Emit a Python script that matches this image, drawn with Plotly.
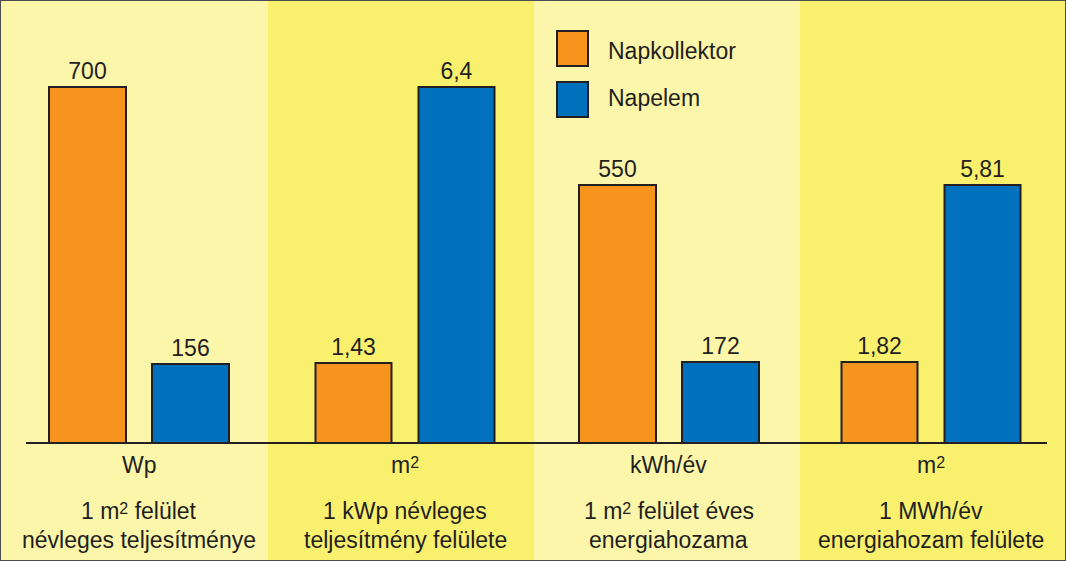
import plotly.graph_objects as go
from plotly.subplots import make_subplots

SQ = "<span style='font-size:16px;baseline-shift:5px'>2</span>"

# ---- data ----
series_names = ["Napkollektor", "Napelem"]
napkollektor = [700, 1.43, 550, 1.82]
napelem = [156, 6.4, 172, 5.81]
units = ["Wp", "m" + SQ, "kWh/év", "m" + SQ]
descriptions = [
    ["1 m" + SQ + " felület", "névleges teljesítménye"],
    ["1 kWp névleges", "teljesítmény felülete"],
    ["1 m" + SQ + " felület éves", "energiahozama"],
    ["1 MWh/év", "energiahozam felülete"],
]
# each panel has its own value scale (as in the original graphic)
y_axis_max = [871, 7.96, 944, 9.98]

# ---- style ----
W, H = 1066, 561
FONT = "Liberation Sans, Arial, sans-serif"
TXT = "#231F20"
ORANGE = "#F7941D"
BLUE = "#0071BC"
PANEL_COLORS = ["#FBF6A9", "#F9F16E", "#FBF6A9", "#F9F16E"]
panel_edges_px = [0, 268, 534, 800, 1066]
x_range_start = [-0.85, -0.845, -0.82, -0.78]
x_range_width = 2.587
base_px = 443

def px_x(x):
    return x / W

def px_y(y):
    return 1 - y / H

def fmt(v):
    return f"{v:g}".replace(".", ",")

fig = make_subplots(rows=1, cols=4, horizontal_spacing=0)

for i in range(4):
    vals = [napkollektor[i], napelem[i]]
    fig.add_trace(
        go.Bar(
            x=[0, 1],
            y=vals,
            width=0.74,
            marker=dict(color=[ORANGE, BLUE], line=dict(color=TXT, width=2)),
            text=[fmt(v) for v in vals],
            textposition="outside",
            constraintext="none",
            cliponaxis=False,
            textfont=dict(family=FONT, size=23, color=TXT),
            showlegend=False,
            hovertext=series_names,
        ),
        row=1, col=i + 1,
    )
    xa = "xaxis" if i == 0 else f"xaxis{i+1}"
    ya = "yaxis" if i == 0 else f"yaxis{i+1}"
    fig.layout[xa].update(range=[x_range_start[i], x_range_start[i] + x_range_width],
                          visible=False, fixedrange=True)
    fig.layout[ya].update(range=[0, y_axis_max[i]], domain=[px_y(base_px), 1],
                          visible=False, fixedrange=True)

shapes = []
# panel backgrounds
for i, c in enumerate(PANEL_COLORS):
    shapes.append(dict(type="rect", xref="paper", yref="paper",
                       x0=px_x(panel_edges_px[i]), x1=px_x(panel_edges_px[i + 1]), y0=0, y1=1,
                       fillcolor=c, line=dict(width=0), layer="below"))
# baseline
shapes.append(dict(type="line", xref="paper", yref="paper",
                   x0=px_x(26), x1=px_x(1047), y0=px_y(base_px), y1=px_y(base_px),
                   line=dict(color=TXT, width=2)))
# legend boxes
for (y0, y1), c in zip([(31, 66), (82, 117)], [ORANGE, BLUE]):
    shapes.append(dict(type="rect", xref="paper", yref="paper",
                       x0=px_x(557), x1=px_x(588), y0=px_y(y1), y1=px_y(y0),
                       fillcolor=c, line=dict(color=TXT, width=2)))
# outer border
shapes.append(dict(type="rect", xref="paper", yref="paper", x0=0, x1=1, y0=0, y1=1,
                   line=dict(color="#4D4D4F", width=2), fillcolor="rgba(0,0,0,0)"))

annotations = []
for i in range(4):
    xref = "x" if i == 0 else f"x{i+1}"
    annotations.append(dict(x=0.5, xref=xref, y=px_y(465), yref="paper",
                            text=units[i], showarrow=False, yanchor="middle",
                            font=dict(family=FONT, size=23, color=TXT)))
    for line, yy in zip(descriptions[i], [511, 540]):
        annotations.append(dict(x=0.5, xref=xref, y=px_y(yy), yref="paper",
                                text=line, showarrow=False, yanchor="middle",
                                font=dict(family=FONT, size=23, color=TXT)))
for name, yy in zip(series_names, [51, 98]):
    annotations.append(dict(x=px_x(606), xref="paper", y=px_y(yy), yref="paper",
                            text=name, showarrow=False, xanchor="left", yanchor="middle",
                            font=dict(family=FONT, size=23, color=TXT)))

fig.update_layout(
    width=W, height=H,
    margin=dict(l=0, r=0, t=0, b=0),
    paper_bgcolor="#FBF6A9",
    plot_bgcolor="rgba(0,0,0,0)",
    shapes=shapes,
    annotations=annotations,
    bargap=0,
    showlegend=False,
)

fig.write_html("out.html",
               config={"displayModeBar": False},
               post_script="document.body.style.margin='0';document.body.style.overflow='hidden';")
